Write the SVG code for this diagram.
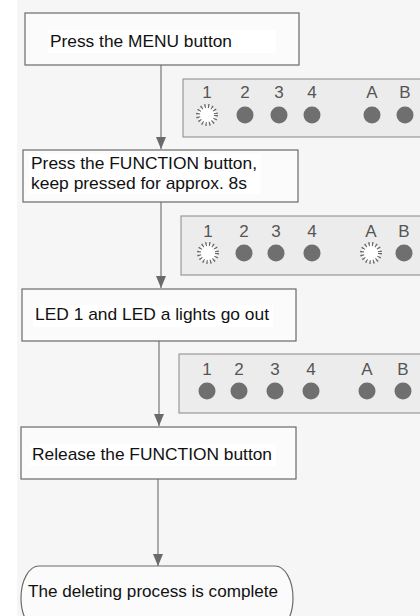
<svg xmlns="http://www.w3.org/2000/svg" width="420" height="616" viewBox="0 0 420 616">
  <style>
    .box { fill: #fbfbfb; stroke: #6a6a6a; stroke-width: 1.2; }
    .hl { fill: #ffffff; }
    .lbl { font-family: "Liberation Sans", Arial, sans-serif; font-size: 17px; fill: #111111; }
    .panel { fill: #ececec; stroke: #9a9a9a; stroke-width: 1.2; }
    .dig { font-family: "Liberation Sans", Arial, sans-serif; font-size: 17px; fill: #555555; text-anchor: middle; }
    .led { fill: #6f6f6f; }
    .blink { fill: #ffffff; stroke: #666666; stroke-width: 4; stroke-dasharray: 1.2 2.4; }
    .conn { stroke: #777777; stroke-width: 1.2; fill: none; marker-end: url(#arrow); }
  </style>
  <defs>
    <!-- filled triangular arrowhead, tip at the end of the line -->
    <marker id="arrow" viewBox="0 0 12 10" refX="12" refY="5" markerWidth="12" markerHeight="10" markerUnits="userSpaceOnUse" orient="auto">
      <path d="M0,0 L12,5 L0,10 Z" fill="#6a6a6a"/>
    </marker>
  </defs>

  <!-- page -->
  <rect x="0" y="0" width="420" height="616" fill="#ffffff"/>
  <rect x="17" y="0" width="403" height="616" fill="#f6f6f6"/>

  <!-- connectors -->
  <g id="connectors">
    <line class="conn" x1="161" y1="65" x2="161" y2="149"/>
    <line class="conn" x1="161" y1="202" x2="161" y2="288"/>
    <line class="conn" x1="159" y1="341" x2="159" y2="426"/>
    <line class="conn" x1="158" y1="479" x2="158" y2="566"/>
  </g>

  <!-- step 1 -->
  <g id="step-menu">
    <rect class="box" x="25" y="13" width="274" height="52"/>
    <rect class="hl" x="48" y="30" width="228" height="23"/>
    <text class="lbl" x="50" y="47" textLength="182" lengthAdjust="spacingAndGlyphs">Press the MENU button</text>
  </g>

  <!-- LED state after step 1 -->
  <g id="leds-1">
    <rect class="panel" x="183" y="79" width="250" height="58"/>
    <text class="dig" x="207" y="98">1</text>
    <text class="dig" x="245" y="98">2</text>
    <text class="dig" x="279" y="98">3</text>
    <text class="dig" x="312" y="98">4</text>
    <text class="dig" x="372" y="98">A</text>
    <text class="dig" x="405" y="98">B</text>
    <circle class="blink" cx="207" cy="115" r="9"/>
    <circle class="led" cx="245" cy="115" r="8.5"/>
    <circle class="led" cx="279" cy="115" r="8.5"/>
    <circle class="led" cx="312" cy="115" r="8.5"/>
    <circle class="led" cx="372" cy="115" r="8.5"/>
    <circle class="led" cx="405" cy="115" r="8.5"/>
  </g>

  <!-- step 2 -->
  <g id="step-function">
    <rect class="box" x="23" y="150" width="275" height="52"/>
    <rect class="hl" x="29" y="154" width="232" height="40"/>
    <text class="lbl" x="31" y="169" textLength="226" lengthAdjust="spacingAndGlyphs">Press the FUNCTION button,</text>
    <text class="lbl" x="31" y="189" textLength="216" lengthAdjust="spacingAndGlyphs">keep pressed for approx. 8s</text>
  </g>

  <!-- LED state during step 2 -->
  <g id="leds-2">
    <rect class="panel" x="181" y="216" width="250" height="59"/>
    <text class="dig" x="208" y="237">1</text>
    <text class="dig" x="244" y="237">2</text>
    <text class="dig" x="276" y="237">3</text>
    <text class="dig" x="312" y="237">4</text>
    <text class="dig" x="371" y="237">A</text>
    <text class="dig" x="404" y="237">B</text>
    <circle class="blink" cx="208" cy="253" r="9"/>
    <circle class="led" cx="244" cy="253" r="8.5"/>
    <circle class="led" cx="276" cy="253" r="8.5"/>
    <circle class="led" cx="312" cy="253" r="8.5"/>
    <circle class="blink" cx="371" cy="253" r="9"/>
    <circle class="led" cx="404" cy="253" r="8.5"/>
  </g>

  <!-- step 3 -->
  <g id="step-lights-out">
    <rect class="box" x="22" y="289" width="274" height="52"/>
    <rect class="hl" x="33" y="305" width="240" height="22"/>
    <text class="lbl" x="35" y="320" textLength="234" lengthAdjust="spacingAndGlyphs">LED 1 and LED a lights go out</text>
  </g>

  <!-- LED state after step 3 -->
  <g id="leds-3">
    <rect class="panel" x="179" y="354" width="252" height="59"/>
    <text class="dig" x="207" y="375">1</text>
    <text class="dig" x="239" y="375">2</text>
    <text class="dig" x="275" y="375">3</text>
    <text class="dig" x="311" y="375">4</text>
    <text class="dig" x="367" y="375">A</text>
    <text class="dig" x="403" y="375">B</text>
    <circle class="led" cx="207" cy="391" r="8.5"/>
    <circle class="led" cx="239" cy="391" r="8.5"/>
    <circle class="led" cx="275" cy="391" r="8.5"/>
    <circle class="led" cx="311" cy="391" r="8.5"/>
    <circle class="led" cx="367" cy="391" r="8.5"/>
    <circle class="led" cx="403" cy="391" r="8.5"/>
  </g>

  <!-- step 4 -->
  <g id="step-release">
    <rect class="box" x="21" y="427" width="275" height="52"/>
    <rect class="hl" x="30" y="444" width="246" height="22"/>
    <text class="lbl" x="32" y="460" textLength="240" lengthAdjust="spacingAndGlyphs">Release the FUNCTION button</text>
  </g>

  <!-- end terminal -->
  <g id="end">
    <rect class="box" x="21" y="566" width="272" height="64" rx="18" ry="32" fill="#ffffff"/>
    <text class="lbl" x="28" y="597" textLength="250" lengthAdjust="spacingAndGlyphs">The deleting process is complete</text>
  </g>
</svg>
